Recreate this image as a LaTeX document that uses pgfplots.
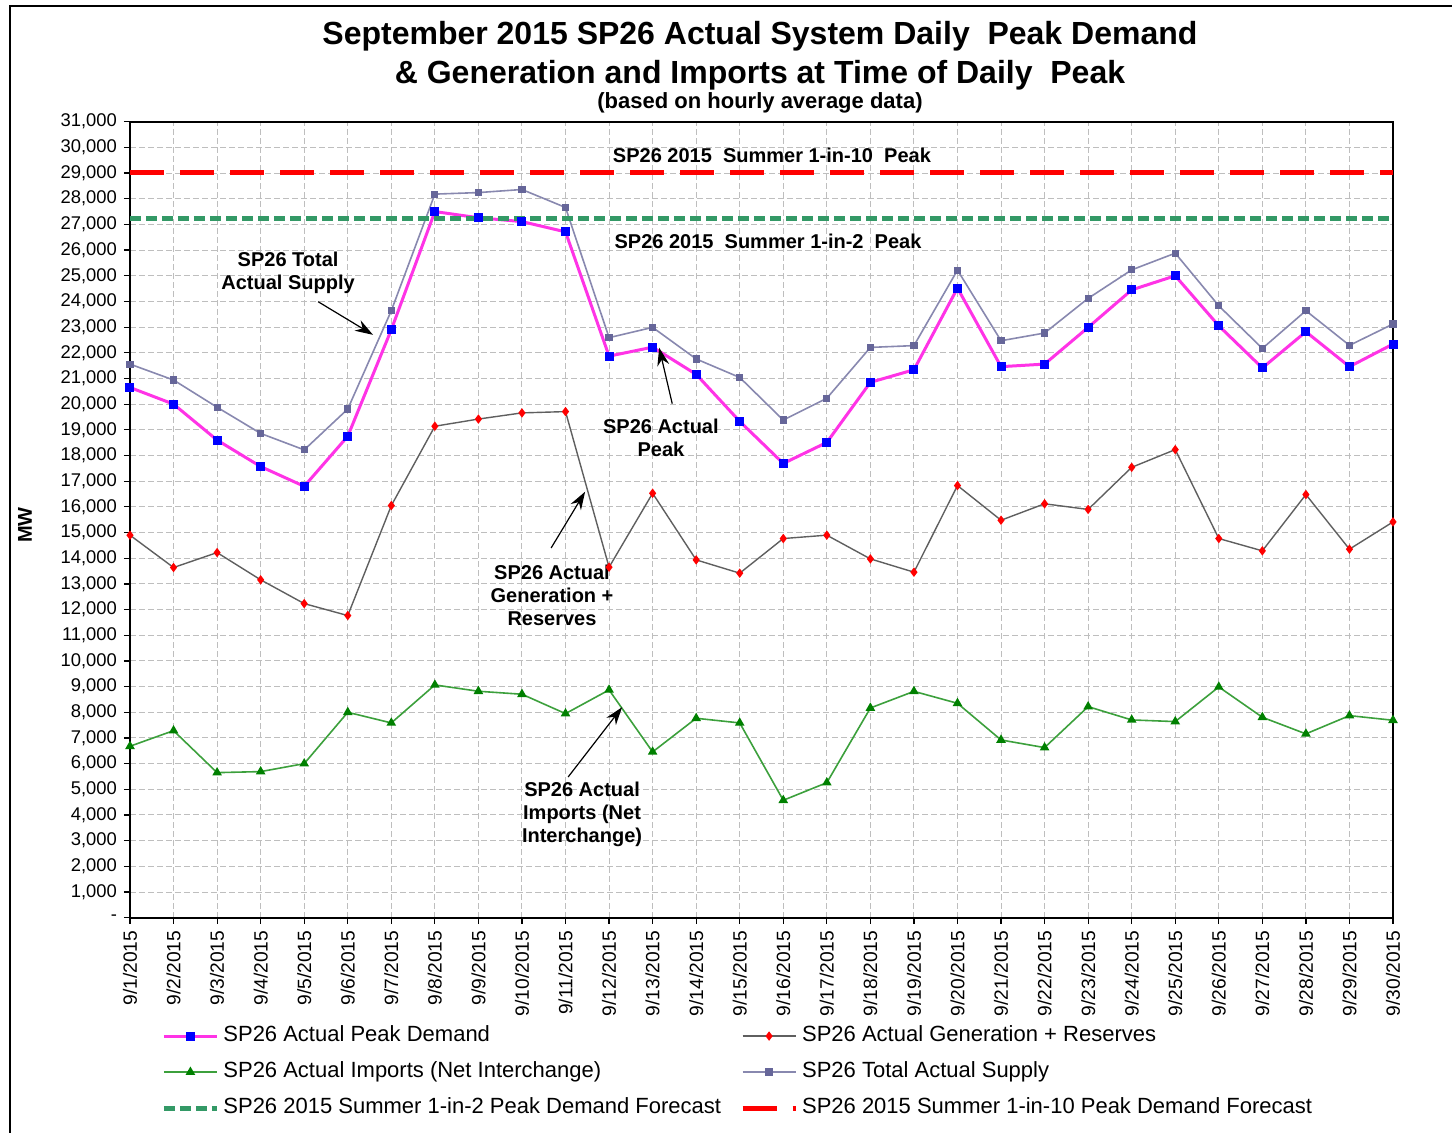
\documentclass[border=0pt]{standalone}
\usepackage{fontspec}
\setmainfont{Liberation Sans}
\usepackage{pgfplots}
\pgfplotsset{compat=1.18}
\usetikzlibrary{arrows.meta}
\definecolor{peakline}{RGB}{255,51,230}
\definecolor{peakmark}{RGB}{0,0,255}
\definecolor{supplyline}{RGB}{136,136,175}
\definecolor{supplymark}{RGB}{102,102,153}
\definecolor{genline}{RGB}{95,95,95}
\definecolor{genmark}{RGB}{255,0,0}
\definecolor{impline}{RGB}{60,160,60}
\definecolor{impmark}{RGB}{0,128,0}
\definecolor{fctwo}{RGB}{51,153,102}
\definecolor{fcten}{RGB}{255,0,0}
\definecolor{gridgray}{RGB}{190,190,190}
\begin{document}
\begin{tikzpicture}
\useasboundingbox (-65pt,-107.15pt) rectangle (661pt,458.85pt);
\draw[line width=0.9pt] (-60pt,-115pt) -- (-60pt,455.85pt) -- (670pt,455.85pt);
\begin{axis}[
  scale only axis, width=631.5pt, height=398pt,
  xmin=1, xmax=30, ymin=0, ymax=31000,
  clip=false,
  scaled y ticks=false,
  xtick={1,...,30},
  xticklabels={9/1/2015,9/2/2015,9/3/2015,9/4/2015,9/5/2015,9/6/2015,9/7/2015,9/8/2015,9/9/2015,9/10/2015,9/11/2015,9/12/2015,9/13/2015,9/14/2015,9/15/2015,9/16/2015,9/17/2015,9/18/2015,9/19/2015,9/20/2015,9/21/2015,9/22/2015,9/23/2015,9/24/2015,9/25/2015,9/26/2015,9/27/2015,9/28/2015,9/29/2015,9/30/2015},
  ytick={0,1000,...,31000},
  yticklabels={{-\hspace{7pt}},{1,000},{2,000},{3,000},{4,000},{5,000},{6,000},{7,000},{8,000},{9,000},{10,000},{11,000},{12,000},{13,000},{14,000},{15,000},{16,000},{17,000},{18,000},{19,000},{20,000},{21,000},{22,000},{23,000},{24,000},{25,000},{26,000},{27,000},{28,000},{29,000},{30,000},{31,000}},
  /pgf/number format/assume math mode=true,
  axis line style={line width=0.8pt, black},
  tick align=outside, tick pos=left, major tick length=3pt,
  tick style={black, line width=0.6pt},
  grid=major,
  major grid style={gridgray, line width=0.5pt, dash pattern=on 3pt off 1.5pt},
  yticklabel style={font=\fontsize{9.2}{10}\selectfont},
  xticklabel style={font=\fontsize{9.6}{10}\selectfont, rotate=90, anchor=east},
  legend columns=2,
  legend cell align=left,
  legend image code/.code={\draw[mark repeat=2,mark phase=2] plot coordinates {(0pt,0pt)(13.25pt,0pt)(26.5pt,0pt)};},
  legend style={draw=none, fill=none, at={(axis description cs:0.0198,-0.13)}, anchor=north west,
    font=\fontsize{11}{13}\selectfont,
    nodes={inner sep=0pt, text height=8pt, text depth=2.5pt},
    row sep=7.5pt,
    /tikz/column 1/.style={column sep=2pt},
    /tikz/column 2/.style={column sep=9.5pt},
    /tikz/column 3/.style={column sep=2pt}},
]
% SP26 Actual Peak Demand
\addplot[peakline, line width=1.5pt, mark=square*, mark size=1.5pt, mark options={fill=peakmark, draw=peakmark, solid}] coordinates {
(1,20650) (2,20000) (3,18600) (4,17570) (5,16800) (6,18750) (7,22900) (8,27500) (9,27260) (10,27110)
(11,26710) (12,21870) (13,22220) (14,21160) (15,19330) (16,17690) (17,18510) (18,20850) (19,21340) (20,24520)
(21,21460) (22,21560) (23,22990) (24,24450) (25,25000) (26,23050) (27,21410) (28,22820) (29,21460) (30,22340)};
\addlegendentry{SP26 Actual Peak Demand}
% SP26 Actual Generation + Reserves
\addplot[genline, line width=0.7pt, mark=diamond*, mark size=1.8pt, mark options={fill=genmark, draw=genmark, solid}] coordinates {
(1,14897) (2,13638) (3,14220) (4,13159) (5,12233) (6,11767) (7,16050) (8,19140) (9,19420) (10,19660)
(11,19710) (12,13650) (13,16530) (14,13935) (15,13418) (16,14767) (17,14897) (18,13974) (19,13457) (20,16830)
(21,15480) (22,16120) (23,15900) (24,17540) (25,18230) (26,14767) (27,14288) (28,16480) (29,14353) (30,15414)};
\addlegendentry{SP26 Actual Generation + Reserves}
% SP26 Actual Imports
\addplot[impline, line width=0.8pt, mark=triangle*, mark size=2pt, mark options={fill=impmark, draw=impmark, solid}] coordinates {
(1,6677) (2,7285) (3,5650) (4,5690) (5,6000) (6,8000) (7,7586) (8,9065) (9,8819) (10,8703)
(11,7948) (12,8871) (13,6457) (14,7767) (15,7586) (16,4573) (17,5259) (18,8168) (19,8815) (20,8350)
(21,6922) (22,6625) (23,8220) (24,7702) (25,7638) (26,8987) (27,7806) (28,7160) (29,7870) (30,7690)};
\addlegendentry{SP26 Actual Imports (Net Interchange)}
% SP26 Total Actual Supply
\addplot[supplyline, line width=0.8pt, mark=square*, mark size=1.4pt, mark options={fill=supplymark, draw=supplymark, solid}] coordinates {
(1,21560) (2,20940) (3,19880) (4,18860) (5,18220) (6,19810) (7,23640) (8,28180) (9,28240) (10,28360)
(11,27660) (12,22590) (13,22990) (14,21760) (15,21040) (16,19380) (17,20230) (18,22210) (19,22280) (20,25220)
(21,22470) (22,22770) (23,24120) (24,25230) (25,25880) (26,23830) (27,22170) (28,23640) (29,22290) (30,23120)};
\addlegendentry{SP26 Total Actual Supply}
% 1-in-2 forecast
\addplot[fctwo, line width=2.5pt, dash pattern=on 5.5pt off 2.5pt] coordinates {(1,27230) (30,27230)};
\addlegendentry{SP26 2015 Summer 1-in-2 Peak Demand Forecast}
% 1-in-10 forecast
\addplot[fcten, line width=2.5pt, dash pattern=on 17pt off 8pt] coordinates {(1,29040) (30,29040)};
\addlegendentry{SP26 2015 Summer 1-in-10 Peak Demand Forecast}

\tikzset{ann/.style={font=\bfseries\fontsize{10}{11.5}\selectfont, align=center, inner sep=0pt},
         arr/.style={-{Stealth[length=9pt,width=6pt]}, line width=0.6pt, black}}
\node[ann] at (axis cs:15.74,29700) {SP26 2015\ \ Summer 1-in-10\ \ Peak};
\node[ann] at (axis cs:15.65,26350) {SP26 2015\ \ Summer 1-in-2\ \ Peak};
\node[ann] at (axis cs:4.63,25110) {SP26 Total\\Actual Supply};
\draw[arr] (axis cs:5.32,23990) -- (axis cs:6.58,22700);
\node[ann] at (axis cs:13.19,18700) {SP26 Actual\\Peak};
\draw[arr] (axis cs:13.45,20020) -- (axis cs:13.15,22200);
\node[ann] at (axis cs:10.69,12550) {SP26 Actual\\Generation +\\Reserves};
\draw[arr] (axis cs:10.67,14400) -- (axis cs:11.45,16590);
\node[ann] at (axis cs:11.38,4030) {SP26 Actual\\Imports (Net\\Interchange)};
\draw[arr] (axis cs:11.06,5480) -- (axis cs:12.30,8200);
\end{axis}
\node[font=\bfseries\fontsize{16}{18}\selectfont] at (315pt,440.85pt) {September 2015 SP26 Actual System Daily\ \ Peak Demand};
\node[font=\bfseries\fontsize{16}{18}\selectfont] at (315pt,421.35pt) {\& Generation and Imports at Time of Daily\ \ Peak};
\node[font=\bfseries\fontsize{11}{13}\selectfont] at (315pt,407.35pt) {(based on hourly average data)};
\node[rotate=90, font=\bfseries\fontsize{10}{12}\selectfont] at (-52.5pt,196.35pt) {MW};
\end{tikzpicture}
\end{document}
